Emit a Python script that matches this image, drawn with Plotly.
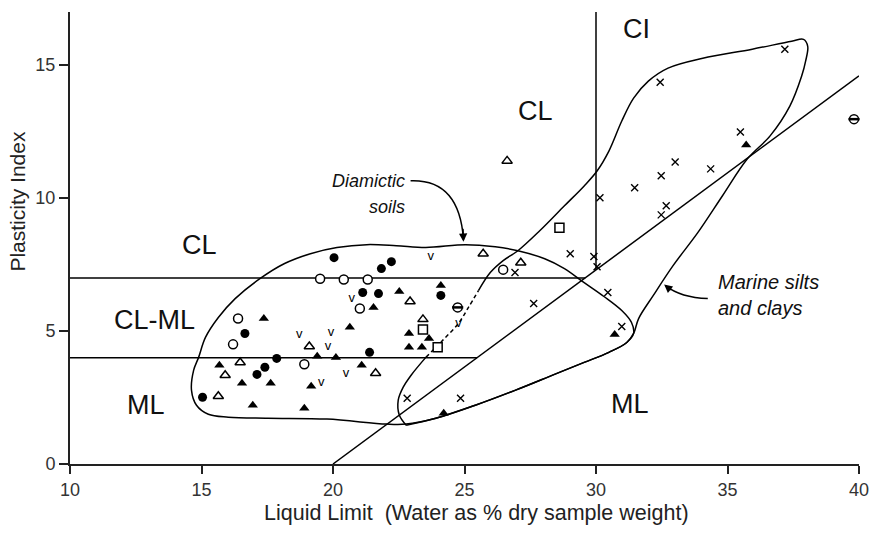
import plotly.graph_objects as go

# ---- sample data: liquid limit (LL, %) and plasticity index (PI) by symbol ----
solid_circle_ll = [20.04, 22.22, 21.84, 16.65, 17.86, 17.41, 17.11, 15.04, 21.13, 21.73, 24.10, 21.39]
solid_circle_pi = [7.76, 7.61, 7.35, 4.91, 3.97, 3.64, 3.37, 2.51, 6.45, 6.41, 6.34, 4.20]

open_circle_ll = [19.51, 20.41, 21.32, 16.39, 16.20, 18.91, 21.02, 26.47]
open_circle_pi = [6.97, 6.94, 6.94, 5.47, 4.50, 3.75, 5.85, 7.31]

barred_circle_ll = [24.74, 39.81]
barred_circle_pi = [5.89, 12.97]

solid_tri_ll = [17.37, 19.40, 20.11, 15.68, 16.54, 17.63, 19.17, 16.95, 18.91, 24.10, 22.52,
                21.54, 20.64, 22.89, 23.65, 22.89, 23.38, 21.09, 24.21, 30.71, 35.71]
solid_tri_pi = [5.47, 4.05, 4.01, 3.71, 3.04, 3.04, 2.92, 2.21, 2.10, 6.71, 6.49,
                5.89, 5.14, 4.91, 4.72, 4.39, 4.39, 3.71, 1.91, 4.87, 12.00]

open_tri_ll = [16.47, 15.90, 15.64, 19.10, 25.71, 22.93, 23.42, 21.62, 27.14, 26.62]
open_tri_pi = [3.82, 3.34, 2.55, 4.42, 7.91, 6.11, 5.44, 3.41, 7.57, 11.40]

vee_ll = [18.72, 19.92, 19.81, 19.55, 23.72, 20.71, 24.77, 20.49]
vee_pi = [4.87, 4.95, 4.42, 3.04, 7.80, 6.22, 5.29, 3.41]

square_ll = [23.42, 23.98, 28.61]
square_pi = [5.06, 4.39, 8.89]

cross_ll = [30.15, 29.02, 29.92, 30.04, 26.92, 27.63, 30.45, 30.98, 24.85, 22.82,
            37.18, 32.44, 35.49, 33.01, 34.36, 32.48, 31.47, 32.67, 32.48]
cross_pi = [10.01, 7.91, 7.80, 7.42, 7.20, 6.04, 6.45, 5.17, 2.47, 2.47,
            15.60, 14.36, 12.49, 11.36, 11.10, 10.84, 10.39, 9.71, 9.37]

# ---- classification lines ----
a_line_ll = [20, 40]
a_line_pi = [0, 14.6]
pi7_ll = [10, 29.59]
pi7_pi = [7, 7]
pi4_ll = [10, 25.48]
pi4_pi = [4, 4]
ll30_ll = [30, 30]
ll30_pi = [7.3, 17]

# ---- envelope of diamictic soils ----
diam_ll = [14.62, 14.70, 14.89, 15.15, 15.64, 16.28, 17.22, 18.16, 19.14, 20.15, 21.28, 22.41,
           23.53, 25.04, 26.17, 27.03, 28.05, 28.80, 29.55, 30.30, 30.98, 31.35, 31.43, 31.17,
           30.49, 29.55, 28.42, 26.92, 25.41, 23.91, 22.78, 22.03, 19.77, 17.52, 16.02, 15.26,
           14.81, 14.62]
diam_pi = [2.77, 3.52, 4.01, 4.76, 5.51, 6.22, 6.97, 7.54, 7.91, 8.14, 8.25, 8.21,
           8.14, 8.25, 8.17, 8.02, 7.72, 7.35, 6.82, 6.30, 5.77, 5.32, 4.91, 4.57,
           4.20, 3.82, 3.37, 2.77, 2.21, 1.72, 1.50, 1.50, 1.69, 1.72, 1.76, 1.87,
           2.21, 2.77]

# ---- envelope of marine silts and clays (left flank dashed inside diamictic field) ----
marine_low_ll = [22.78, 22.52, 22.48, 22.67, 22.97, 23.53]
marine_low_pi = [1.46, 1.84, 2.40, 2.89, 3.34, 4.01]
marine_dash_ll = [23.53, 24.17, 24.77, 25.15, 25.53]
marine_dash_pi = [4.01, 4.65, 5.29, 5.89, 6.52]
marine_up_ll = [25.53, 25.98, 26.47, 27.03, 27.86, 28.80, 29.55, 30.04, 30.49, 30.98, 31.43,
                31.99, 32.74, 34.06, 35.94, 37.44, 37.89, 38.05, 37.97, 37.82, 37.37, 36.62,
                35.75, 34.81, 33.87, 32.93, 32.18, 31.62, 31.43, 31.17, 30.49, 29.55, 28.42,
                26.92, 25.41, 23.91, 22.78]
marine_up_pi = [6.52, 7.20, 7.65, 8.02, 8.77, 9.71, 10.46, 11.02, 11.77, 12.90, 13.76,
                14.40, 14.89, 15.26, 15.60, 15.90, 15.97, 15.71, 15.15, 14.59, 13.46, 12.34,
                11.47, 10.09, 8.70, 7.46, 6.34, 5.47, 4.91, 4.57, 4.20, 3.82, 3.37,
                2.77, 2.21, 1.72, 1.46]

# ---- zone labels ----
zone_text = ["CI", "CL", "CL", "CL-ML", "ML", "ML"]
zone_ll = [31.54, 27.71, 14.92, 13.2, 12.89, 31.28]
zone_pi = [16.36, 13.27, 8.25, 5.40, 2.21, 2.27]

x_ticks = [10, 15, 20, 25, 30, 35, 40]
y_ticks = [0, 5, 10, 15]

INK = "black"
W, H = 881, 533
ML, MR, MT, MB = 70, 13, 12, 69
PW, PH = W - ML - MR, H - MT - MB


def paper_x(px):
    return (px - ML) / PW


def paper_y(py):
    return (H - MB - py) / PH


fig = go.Figure()


def add_line(xs, ys, dash="solid", width=1.5, shape="linear"):
    fig.add_trace(go.Scatter(x=xs, y=ys, mode="lines", hoverinfo="skip",
                             line=dict(color=INK, width=width, dash=dash, shape=shape,
                                       smoothing=1.0)))


add_line(pi7_ll, pi7_pi)
add_line(pi4_ll, pi4_pi)
add_line(a_line_ll, a_line_pi)
add_line(ll30_ll, ll30_pi)
add_line(diam_ll, diam_pi, shape="spline")
add_line(marine_low_ll, marine_low_pi, shape="spline")
add_line(marine_dash_ll, marine_dash_pi, dash="4px,3px", shape="spline")
add_line(marine_up_ll, marine_up_pi, shape="spline")


def add_points(xs, ys, symbol, size=9, fill=INK, lw=0):
    fig.add_trace(go.Scatter(x=xs, y=ys, mode="markers", cliponaxis=False,
                             marker=dict(symbol=symbol, size=size, color=fill,
                                         line=dict(color=INK, width=lw))))


add_points(solid_circle_ll, solid_circle_pi, "circle", 9)
add_points(open_circle_ll, open_circle_pi, "circle", 9, "white", 1.5)
add_points(barred_circle_ll, barred_circle_pi, "circle", 9, "white", 1.5)
add_points(barred_circle_ll, barred_circle_pi, "line-ew", 8, INK, 2.5)
add_points(solid_tri_ll, solid_tri_pi, "triangle-up", 9)
add_points(open_tri_ll, open_tri_pi, "triangle-up", 9, "white", 1.5)
add_points(square_ll, square_pi, "square", 9, "white", 1.5)
add_points(cross_ll, cross_pi, "x-thin", 7, INK, 1.4)
fig.add_trace(go.Scatter(x=vee_ll, y=vee_pi, mode="text", text=["v"] * len(vee_ll),
                         textposition="middle center", cliponaxis=False,
                         textfont=dict(family="Liberation Sans", size=13, color=INK)))

# zone labels
for t, x, y in zip(zone_text, zone_ll, zone_pi):
    fig.add_annotation(x=x, y=y, text=t, showarrow=False, xanchor="center", yanchor="middle",
                       font=dict(family="Liberation Sans", size=27, color="#111"))

# field captions with curved leaders
fig.add_annotation(x=22.8, y=10.65, text="<i>Diamictic</i>", showarrow=False,
                   xanchor="right", yanchor="middle",
                   font=dict(family="Liberation Sans", size=18, color="#111"))
fig.add_annotation(x=22.8, y=9.65, text="<i>soils</i>", showarrow=False,
                   xanchor="right", yanchor="middle",
                   font=dict(family="Liberation Sans", size=18, color="#111"))
fig.add_annotation(x=34.55, y=6.34, text="<i>Marine silts<br>and clays</i>", showarrow=False,
                   xanchor="left", yanchor="middle", align="left",
                   font=dict(family="Liberation Sans", size=20, color="#111"))

fig.add_shape(type="path", xref="x", yref="y", line=dict(color=INK, width=1.5),
              path="M 22.95,10.65 Q 24.80,10.72 24.96,8.45")
fig.add_annotation(x=24.96, y=8.36, ax=24.94, ay=8.9, axref="x", ayref="y", text="",
                   showarrow=True, arrowhead=2, arrowsize=1.1, arrowwidth=1.5, arrowcolor=INK)
fig.add_shape(type="path", xref="x", yref="y", line=dict(color=INK, width=1.5),
              path="M 34.25,6.22 Q 33.23,6.26 32.65,6.70")
fig.add_annotation(x=32.59, y=6.75, ax=32.9, ay=6.5, axref="x", ayref="y", text="",
                   showarrow=True, arrowhead=2, arrowsize=1.1, arrowwidth=1.5, arrowcolor=INK)

# axis titles
fig.add_annotation(xref="paper", yref="paper", x=paper_x(481), y=paper_y(513),
                   text="Liquid Limit\u00a0 (Water as % dry sample weight)", showarrow=False,
                   xanchor="center", yanchor="middle",
                   font=dict(family="Liberation Sans", size=21.5, color="#222"))
fig.add_annotation(xref="paper", yref="paper", x=paper_x(16), y=paper_y(201),
                   text="Plasticity Index", showarrow=False, textangle=-90,
                   xanchor="center", yanchor="middle",
                   font=dict(family="Liberation Sans", size=21, color="#222"))

fig.update_layout(
    width=W, height=H, margin=dict(l=ML, r=MR, t=MT, b=MB),
    paper_bgcolor="white", plot_bgcolor="white", showlegend=False,
    xaxis=dict(range=[10, 40], tickvals=x_ticks, showgrid=False, zeroline=False,
               showline=True, linecolor="#222", linewidth=2, ticks="outside", ticklen=8,
               tickwidth=1.5, tickcolor="#222",
               tickfont=dict(family="Liberation Sans", size=18, color="#333")),
    yaxis=dict(range=[0, 17], tickvals=y_ticks, showgrid=False, zeroline=False,
               showline=True, linecolor="#222", linewidth=2, ticks="outside", ticklen=9,
               tickwidth=1.5, tickcolor="#222",
               tickfont=dict(family="Liberation Sans", size=18, color="#333")),
)

fig.write_html("out.html")
